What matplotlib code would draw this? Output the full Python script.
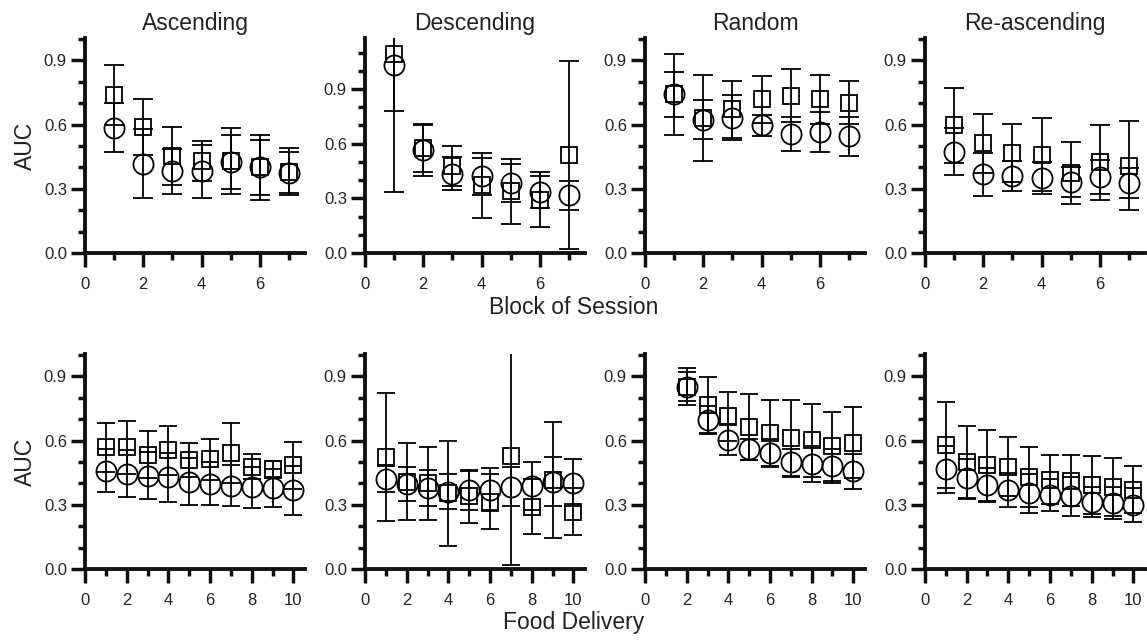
import matplotlib
matplotlib.use('Agg')
import matplotlib.pyplot as plt
from matplotlib.ticker import MultipleLocator, FormatStrFormatter

# x values
blocks = [1, 2, 3, 4, 5, 6, 7]
deliveries = [1, 2, 3, 4, 5, 6, 7, 8, 9, 10]
random_deliveries = [2, 3, 4, 5, 6, 7, 8, 9, 10]

titles = ["Ascending", "Descending", "Random", "Re-ascending"]

# top row: block of session (squares / circles, mean and error)
asc_blk_sq = [0.74, 0.59, 0.455, 0.43, 0.43, 0.40, 0.38]
asc_blk_sq_err = [0.14, 0.13, 0.135, 0.095, 0.155, 0.15, 0.11]
asc_blk_ci = [0.585, 0.418, 0.382, 0.382, 0.425, 0.40, 0.375]
asc_blk_ci_err = [0.115, 0.16, 0.104, 0.125, 0.125, 0.13, 0.095]

desc_blk_sq = [1.09, 0.575, 0.476, 0.371, 0.338, 0.293, 0.538]
desc_blk_sq_err = [0.31, 0.13, 0.11, 0.18, 0.18, 0.15, 0.515]
desc_blk_ci = [1.033, 0.565, 0.435, 0.42, 0.385, 0.335, 0.317]
desc_blk_ci_err = [0.70, 0.145, 0.09, 0.10, 0.105, 0.09, 0.08]

rand_blk_sq = [0.741, 0.632, 0.671, 0.718, 0.736, 0.718, 0.703]
rand_blk_sq_err = [0.19, 0.20, 0.135, 0.11, 0.125, 0.115, 0.10]
rand_blk_ci = [0.741, 0.624, 0.632, 0.596, 0.558, 0.566, 0.545]
rand_blk_ci_err = [0.105, 0.09, 0.105, 0.05, 0.08, 0.095, 0.09]

reasc_blk_sq = [0.596, 0.512, 0.468, 0.46, 0.374, 0.424, 0.409]
reasc_blk_sq_err = [0.175, 0.14, 0.135, 0.17, 0.145, 0.175, 0.21]
reasc_blk_ci = [0.473, 0.367, 0.362, 0.351, 0.331, 0.356, 0.328]
reasc_blk_ci_err = [0.11, 0.10, 0.07, 0.075, 0.07, 0.08, 0.07]

# bottom row: food delivery
asc_fd_sq = [0.569, 0.569, 0.534, 0.554, 0.51, 0.513, 0.541, 0.479, 0.466, 0.484]
asc_fd_sq_err = [0.115, 0.125, 0.11, 0.115, 0.08, 0.095, 0.14, 0.06, 0.04, 0.11]
asc_fd_ci = [0.46, 0.445, 0.435, 0.429, 0.409, 0.398, 0.39, 0.382, 0.378, 0.367]
asc_fd_ci_err = [0.10, 0.11, 0.11, 0.115, 0.11, 0.10, 0.095, 0.095, 0.09, 0.115]

desc_fd_sq = [0.523, 0.409, 0.40, 0.354, 0.339, 0.315, 0.53, 0.292, 0.417, 0.268]
desc_fd_sq_err = [0.30, 0.18, 0.17, 0.245, 0.122, 0.13, 0.51, 0.13, 0.27, 0.11]
desc_fd_ci = [0.421, 0.398, 0.378, 0.362, 0.367, 0.37, 0.385, 0.388, 0.409, 0.404]
desc_fd_ci_err = [0.06, 0.08, 0.085, 0.08, 0.09, 0.10, 0.09, 0.11, 0.115, 0.11]

rand_fd_sq = [0.853, 0.768, 0.713, 0.663, 0.635, 0.612, 0.601, 0.573, 0.591]
rand_fd_sq_err = [0.085, 0.13, 0.115, 0.155, 0.155, 0.18, 0.17, 0.16, 0.165]
rand_fd_ci = [0.853, 0.697, 0.604, 0.56, 0.541, 0.498, 0.491, 0.482, 0.456]
rand_fd_ci_err = [0.07, 0.065, 0.07, 0.05, 0.065, 0.065, 0.085, 0.08, 0.08]

reasc_fd_sq = [0.58, 0.499, 0.484, 0.479, 0.432, 0.417, 0.413, 0.393, 0.385, 0.37]
reasc_fd_sq_err = [0.20, 0.17, 0.165, 0.14, 0.14, 0.115, 0.12, 0.135, 0.135, 0.11]
reasc_fd_ci = [0.466, 0.424, 0.393, 0.37, 0.354, 0.346, 0.339, 0.315, 0.307, 0.30]
reasc_fd_ci_err = [0.11, 0.09, 0.08, 0.08, 0.09, 0.075, 0.09, 0.07, 0.075, 0.08]

top_panels = [
    (blocks, asc_blk_sq, asc_blk_sq_err, asc_blk_ci, asc_blk_ci_err),
    (blocks, desc_blk_sq, desc_blk_sq_err, desc_blk_ci, desc_blk_ci_err),
    (blocks, rand_blk_sq, rand_blk_sq_err, rand_blk_ci, rand_blk_ci_err),
    (blocks, reasc_blk_sq, reasc_blk_sq_err, reasc_blk_ci, reasc_blk_ci_err),
]
bottom_panels = [
    (deliveries, asc_fd_sq, asc_fd_sq_err, asc_fd_ci, asc_fd_ci_err),
    (deliveries, desc_fd_sq, desc_fd_sq_err, desc_fd_ci, desc_fd_ci_err),
    (random_deliveries, rand_fd_sq, rand_fd_sq_err, rand_fd_ci, rand_fd_ci_err),
    (deliveries, reasc_fd_sq, reasc_fd_sq_err, reasc_fd_ci, reasc_fd_ci_err),
]

plt.rcParams['font.family'] = ['Liberation Sans', 'DejaVu Sans']

W, H = 1147, 640
fig = plt.figure(figsize=(W / 100, H / 100), dpi=100)

lefts = [85, 365, 645, 925]
pw, ph = 220, 215
lw_sp = 2.8
ls = 12
fs = 16.5


def style_axes(ax, xmax, ymax):
    ax.set_xlim(0, xmax)
    ax.set_ylim(0, ymax)
    for s in ['top', 'right']:
        ax.spines[s].set_visible(False)
    for s in ['left', 'bottom']:
        ax.spines[s].set_linewidth(lw_sp)
        ax.spines[s].set_color('#111111')
    ax.xaxis.set_major_locator(MultipleLocator(2))
    ax.xaxis.set_minor_locator(MultipleLocator(1))
    ax.yaxis.set_major_locator(MultipleLocator(0.3))
    ax.yaxis.set_minor_locator(MultipleLocator(0.1))
    ax.yaxis.set_major_formatter(FormatStrFormatter('%.1f'))
    ax.tick_params(which='major', length=10, width=2.5, labelsize=ls,
                   color='#111111', labelcolor='#222222')
    ax.tick_params(axis='x', which='major', pad=7)
    ax.tick_params(axis='y', which='major', pad=3)
    ax.tick_params(which='minor', length=5, width=2.5, color='#111111')
    ax.patch.set_alpha(0)


def draw(ax, x, sq, sq_err, ci, ci_err, cs):
    ax.errorbar(x, sq, yerr=sq_err, fmt='s', ms=12, mfc='none', mec='black',
                mew=1.3, ecolor='black', elinewidth=1.3, capsize=cs, capthick=1.3)
    ax.errorbar(x, ci, yerr=ci_err, fmt='o', ms=14.5, mfc='none', mec='black',
                mew=1.3, ecolor='black', elinewidth=1.3, capsize=cs, capthick=1.3)


for i in range(4):
    # top row
    ymax = 1.18 if i == 1 else 1.005
    ax = fig.add_axes([lefts[i] / W, (H - 253) / H, pw / W, ph / H])
    x, sq, sqe, ci, cie = top_panels[i]
    draw(ax, x, sq, sqe, ci, cie, 7.2)
    style_axes(ax, 7.55, ymax)
    ax.set_title(titles[i], fontsize=fs, pad=6, color='#222222')

    # bottom row
    ax = fig.add_axes([lefts[i] / W, (H - 569) / H, pw / W, ph / H])
    x, sq, sqe, ci, cie = bottom_panels[i]
    draw(ax, x, sq, sqe, ci, cie, 6.6)
    style_axes(ax, 10.56, 1.005)

fig.text(25 / W, 1 - 146 / H, "AUC", rotation=90, ha='center', va='center', fontsize=fs, color='#222222')
fig.text(25 / W, 1 - 462 / H, "AUC", rotation=90, ha='center', va='center', fontsize=fs, color='#222222')
fig.text(573.5 / W, 1 - 308 / H, "Block of Session", ha='center', va='center', fontsize=fs, color='#222222')
fig.text(573.5 / W, 1 - 622 / H, "Food Delivery", ha='center', va='center', fontsize=fs, color='#222222')

plt.savefig('out.png', dpi=100)
